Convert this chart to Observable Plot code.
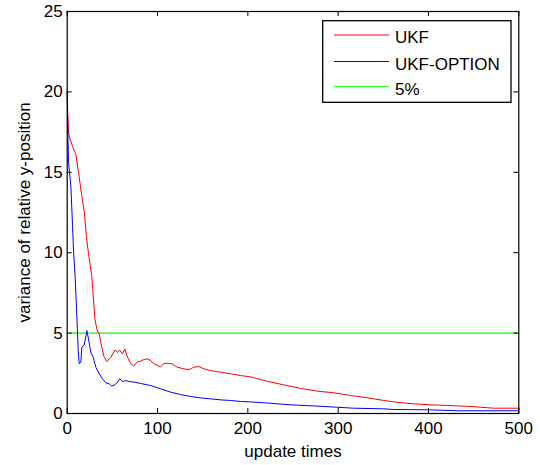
<!DOCTYPE html>
<html>
<head>
<meta charset="utf-8">
<script src="https://cdn.jsdelivr.net/npm/d3@7"></script>
<script src="https://cdn.jsdelivr.net/npm/@observablehq/plot@0.6"></script>
<style>
  html, body { margin: 0; padding: 0; background: #fff; }
  #chart { width: 540px; height: 465px; }
</style>
</head>
<body>
<div id="chart"></div>
<script>
// ---- data ----
const ukfX = [0, 0.6, 1.5, 2.9, 6, 9.5, 12.5, 16, 19, 21.4, 23.6, 27.3, 30.6, 32.8, 35.4, 38.3, 41, 43.8, 48.3, 53, 55.7, 58, 61, 63.8, 66.8, 70.4, 73.6, 77.5, 81.2, 84.8, 88.6, 92.2, 95.9, 99.6, 103.3, 107, 110.7, 116.3, 121.8, 129.1, 134.6, 140.2, 145.7, 151.2, 158.7, 169.7, 180.8, 191.8, 203, 221, 239.8, 258, 276.8, 295, 313.7, 332, 350.5, 365, 383.7, 402, 420.7, 446.5, 472.3, 500];
const ukfY = [20, 18.6, 17.5, 17.1, 16.6, 16.15, 15.0, 13.6, 12.5, 10.9, 9.95, 8.5, 5.9, 5.25, 4.95, 4.1, 3.5, 3.23, 3.5, 3.95, 3.8, 3.95, 3.7, 4.0, 3.5, 3.1, 2.95, 3.2, 3.25, 3.35, 3.4, 3.3, 3.1, 3.0, 2.9, 3.1, 3.13, 3.08, 2.88, 2.78, 2.72, 2.88, 2.92, 2.78, 2.67, 2.57, 2.47, 2.36, 2.28, 2.01, 1.78, 1.57, 1.39, 1.29, 1.12, 0.98, 0.81, 0.70, 0.60, 0.54, 0.50, 0.44, 0.33, 0.33];

const optX = [0, 0.7, 1.5, 4, 5.9, 7, 8.8, 10.7, 12.2, 13.3, 15.1, 16.2, 18.8, 20.6, 21.7, 23.6, 26.1, 28.8, 31.7, 35.4, 39, 42.8, 46.5, 49.4, 53.1, 55.7, 58.3, 61.2, 64.9, 68.6, 74.2, 81.2, 92.2, 103.3, 114.4, 125.4, 136.5, 147.6, 158.7, 169.7, 180.8, 191.8, 203, 225, 247, 276.8, 298.6, 317, 350.5, 361.6, 398.6, 433.6, 500];
const optY = [20, 17.5, 15.6, 14.2, 11.7, 10.1, 8.5, 6.0, 3.9, 3.09, 3.19, 4.12, 4.27, 4.75, 5.16, 4.64, 3.81, 3.5, 2.88, 2.47, 2.16, 1.91, 1.85, 1.70, 1.80, 1.95, 2.16, 1.99, 2.05, 1.99, 1.95, 1.87, 1.74, 1.54, 1.33, 1.18, 1.06, 0.97, 0.91, 0.85, 0.81, 0.75, 0.72, 0.64, 0.54, 0.46, 0.39, 0.33, 0.29, 0.25, 0.23, 0.17, 0.17];

const threshold = 5;
const xTicks = [0, 100, 200, 300, 400, 500];
const yTicks = [0, 5, 10, 15, 20, 25];
const seriesNames = ["UKF", "UKF-OPTION", "5%"];
const seriesColors = ["#ff0000", "#0000ff", "#00ff00"];
const xLabel = "update times";
const yLabel = "variance of relative y-position";

// ---- layout ----
const W = 540, H = 465;
const mL = 66.7, mR = 21.7, mT = 11, mB = 52;
const FONT = "'Liberation Sans', Arial, Helvetica, sans-serif";
const FS = 17;
const tickPx = 5;
const tyLen = tickPx * 25 / (H - mT - mB);      // tick length in y units
const txLen = tickPx * 500 / (W - mL - mR);     // tick length in x units

const ukf = ukfX.map((x, i) => ({x, y: ukfY[i]}));
const opt = optX.map((x, i) => ({x, y: optY[i]}));

const chart = Plot.plot({
  width: W,
  height: H,
  marginLeft: mL,
  marginRight: mR,
  marginTop: mT,
  marginBottom: mB,
  style: {fontFamily: FONT, fontSize: FS + "px", background: "#fff", color: "#000"},
  x: {domain: [0, 500]},
  y: {domain: [0, 25]},
  marks: [
    Plot.ruleY([threshold], {stroke: seriesColors[2], strokeWidth: 1.2}),
    Plot.line(ukf, {x: "x", y: "y", stroke: seriesColors[0], strokeWidth: 1}),
    Plot.line(opt, {x: "x", y: "y", stroke: seriesColors[1], strokeWidth: 1}),
    // inward ticks on all four sides
    Plot.ruleX(xTicks, {x: d => d, y1: 0, y2: tyLen, stroke: "#000"}),
    Plot.ruleX(xTicks, {x: d => d, y1: 25, y2: 25 - tyLen, stroke: "#000"}),
    Plot.ruleY(yTicks, {y: d => d, x1: 0, x2: txLen, stroke: "#000"}),
    Plot.ruleY(yTicks, {y: d => d, x1: 500, x2: 500 - txLen, stroke: "#000"}),
    Plot.frame({stroke: "#000", strokeWidth: 1.2}),
    Plot.axisX({ticks: xTicks, tickSize: 0, tickPadding: 8, fontSize: FS, label: null}),
    Plot.axisY({ticks: yTicks, tickSize: 0, tickPadding: 4.5, fontSize: FS, label: null}),
    Plot.text([xLabel], {text: d => d, frameAnchor: "bottom", textAnchor: "middle", dy: 43, fontSize: FS, fill: "#000"}),
    Plot.text([yLabel], {text: d => d, frameAnchor: "left", textAnchor: "middle", rotate: -90, dx: -43, fontSize: FS, fill: "#000"})
  ]
});

// ---- legend (MATLAB style box, upper right) ----
const svg = d3.select(chart);
const lg = svg.append("g").attr("class", "legend").attr("text-anchor", "start");
const box = {x: 322.7, y: 20.7, w: 188.3, h: 81.6};
lg.append("rect")
  .attr("x", box.x).attr("y", box.y).attr("width", box.w).attr("height", box.h)
  .attr("fill", "#fff").attr("stroke", "#000").attr("stroke-width", 1.3);
const rowY = [35, 61.5, 86.7];
seriesNames.forEach((name, i) => {
  lg.append("line")
    .attr("x1", 334).attr("x2", 389).attr("y1", rowY[i]).attr("y2", rowY[i])
    .attr("stroke", seriesColors[i]).attr("stroke-width", 1);
  lg.append("text")
    .attr("x", 395).attr("y", rowY[i] + 8.3)
    .attr("text-anchor", "start")
    .attr("font-family", FONT).attr("font-size", FS)
    .attr("fill", "#000")
    .text(name);
});

document.getElementById("chart").appendChild(chart);
</script>
</body>
</html>
